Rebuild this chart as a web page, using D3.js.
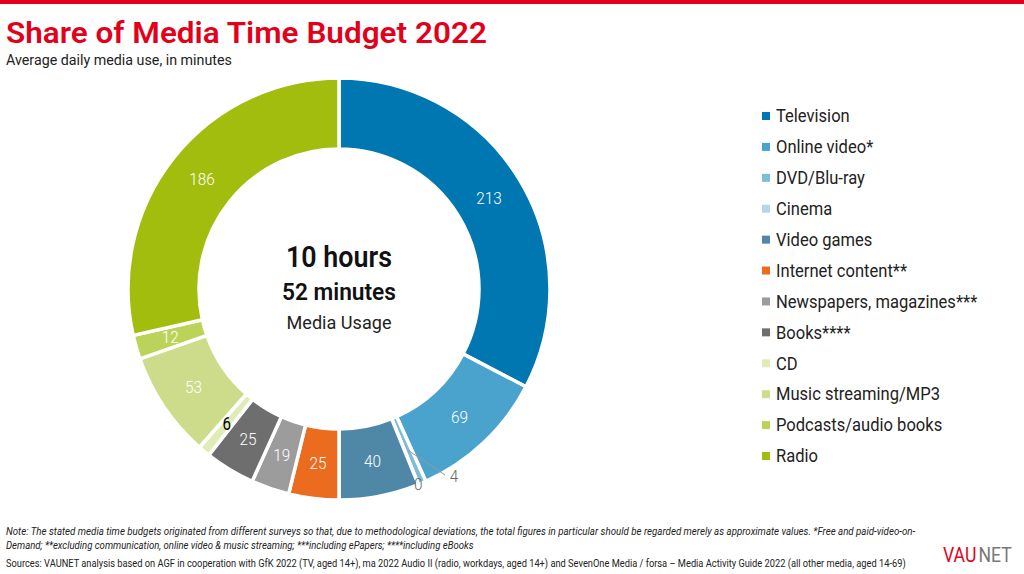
<!DOCTYPE html>
<html><head><meta charset="utf-8">
<script src="https://cdn.jsdelivr.net/npm/d3@7"></script>
<style>
body{margin:0;background:#fff;}
svg{display:block;}
text{font-family:Roboto, "Noto Sans", sans-serif;}
</style></head>
<body>
<script>
const categories = ["Television","Online video*","DVD/Blu-ray","Cinema","Video games","Internet content**","Newspapers, magazines***","Books****","CD","Music streaming/MP3","Podcasts/audio books","Radio"];
const values = [213,69,4,0,40,25,19,25,6,53,12,186];
const colors = ["#0077b0","#4aa3cc","#7fbcd6","#b5d8e8","#4f88a6","#ec6c1f","#9c9c9c","#6e6e6e","#e0ecb8","#cddc8a","#bcd35a","#a3bd0f"];
const labelColors = ["#fff","#fff","#666","#666","#fff","#fff","#fff","#fff","#000","#fff","#fff","#fff"];
const centerLines = ["10 hours","52 minutes","Media Usage"];
const notes = [
  "Note: The stated media time budgets originated from different surveys so that, due to methodological deviations, the total figures in particular should be regarded merely as approximate values. *Free and paid-video-on-",
  "Demand; **excluding communication, online video & music streaming; ***including ePapers; ****including eBooks"
];
const sourceText = "Sources: VAUNET analysis based on AGF in cooperation with GfK 2022 (TV, aged 14+), ma 2022 Audio II (radio, workdays, aged 14+) and SevenOne Media / forsa – Media Activity Guide 2022 (all other media, aged 14-69)";

const W=1024,H=574;
const svg=d3.select("body").append("svg").attr("width",W).attr("height",H);

// place a text at (x,y) and squeeze it horizontally to a target width
function fitText(sel, x, y, target){
  const w=sel.node().getComputedTextLength();
  const s=target/w;
  sel.attr("transform",`translate(${x},${y}) scale(${s},1)`);
  return sel;
}

svg.append("rect").attr("x",0).attr("y",0).attr("width",W).attr("height",4).attr("fill","#e2001a");
fitText(svg.append("text").attr("fill","#e2001a").attr("font-size",30).attr("font-weight",600)
  .text("Share of Media Time Budget 2022"),6,43,481);
fitText(svg.append("text").attr("fill","#222").attr("font-size",14.5)
  .text("Average daily media use, in minutes"),6,65,226);

const cx=339, cy=289, R=211, r0=140;
const g=svg.append("g").attr("transform",`translate(${cx},${cy})`);
const pie=d3.pie().sort(null).value(d=>d)(values);
const arc=d3.arc().innerRadius(r0).outerRadius(R);
g.selectAll("path.slice").data(pie).join("path").attr("class","slice")
  .attr("d",arc).attr("fill",(d,i)=>colors[i]).attr("stroke","#fff").attr("stroke-width",3.5).attr("stroke-linejoin","miter");

const labelArc=d3.arc().innerRadius((r0+R)/2).outerRadius((r0+R)/2);
pie.forEach((d,i)=>{
  let [x,y]=labelArc.centroid(d);
  const a=(d.startAngle+d.endAngle)/2;
  if(i===3){ x=Math.sin(a)*R; y=-Math.cos(a)*R; }
  if(i===2){
    const tx=106, ty=186;
    g.append("line").attr("x1",x).attr("y1",y).attr("x2",tx).attr("y2",ty).attr("stroke","#999").attr("stroke-width",1);
    x=tx+9; y=ty+1;
  }
  g.append("text").attr("x",x).attr("y",y).attr("dy","0.35em").attr("text-anchor","middle")
    .attr("fill",labelColors[i]).attr("font-size",i===8?18:17).attr("font-weight",i===8?400:300)
    .attr("textLength",(String(values[i]).length)*8.5).attr("lengthAdjust","spacingAndGlyphs")
    .text(values[i]);
});

g.append("text").attr("x",0).attr("y",-32).attr("dy","0.35em").attr("text-anchor","middle").attr("font-size",29).attr("font-weight",600).attr("fill","#111")
  .attr("textLength",106).attr("lengthAdjust","spacingAndGlyphs").text(centerLines[0]);
g.append("text").attr("x",0).attr("y",3).attr("dy","0.35em").attr("text-anchor","middle").attr("font-size",24).attr("font-weight",600).attr("fill","#111")
  .attr("textLength",114).attr("lengthAdjust","spacingAndGlyphs").text(centerLines[1]);
g.append("text").attr("x",0).attr("y",33).attr("dy","0.35em").attr("text-anchor","middle").attr("font-size",19).attr("fill","#222")
  .attr("textLength",105).attr("lengthAdjust","spacingAndGlyphs").text(centerLines[2]);

const ly=d3.scaleLinear().domain([0,categories.length-1]).range([116,456]);
const lg=svg.append("g");
categories.forEach((c,i)=>{
  lg.append("rect").attr("x",762).attr("y",ly(i)-4).attr("width",8).attr("height",8).attr("fill",colors[i]);
  lg.append("text").attr("transform",`translate(776,${ly(i)}) scale(0.92,1)`).attr("dy","0.35em").attr("font-size",18).attr("fill","#222").text(c);
});

fitText(svg.append("text").attr("font-size",10).attr("font-style","italic").attr("fill","#222").text(notes[0]),6,535,910);
fitText(svg.append("text").attr("font-size",10).attr("font-style","italic").attr("fill","#222").text(notes[1]),6,549,468);
fitText(svg.append("text").attr("font-size",10.5).attr("fill","#222").text(sourceText),6,567,900);

svg.append("text").attr("transform","translate(943,562) scale(0.84,1)").attr("font-size",21).attr("fill","#e2001a").text("VAU");
svg.append("text").attr("transform","translate(978.5,562) scale(0.84,1)").attr("font-size",21).attr("fill","#777").text("NET");
</script>
</body></html>
